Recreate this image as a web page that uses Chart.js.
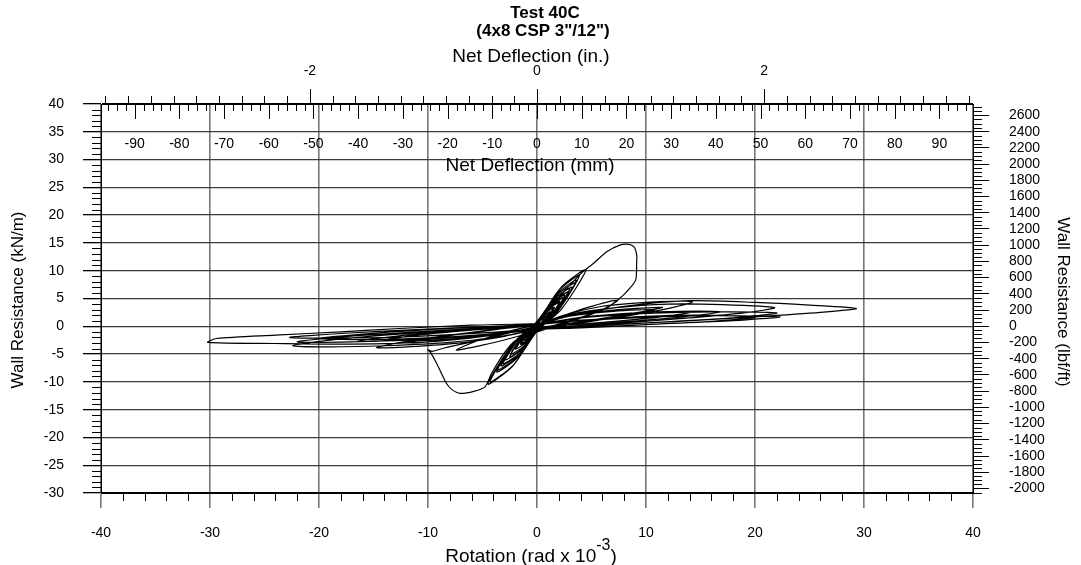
<!DOCTYPE html>
<html>
<head>
<meta charset="utf-8">
<title>Test 40C</title>
<script src="https://cdn.jsdelivr.net/npm/chart.js@4/dist/chart.umd.min.js"></script>
<style>
  html, body { margin: 0; padding: 0; background: #fff; }
  #wrap { width: 1081px; height: 565px; }
</style>
</head>
<body>
<div id="wrap"><canvas id="hysteresis" width="1081" height="565"></canvas></div>
<script>
// ── Hysteresis record, Test 40C (4x8 CSP 3"/12") ─────────────
// rotation in rad x 10^-3, resistance in kN/m, one point per reading
const rotation = [
    // small cycles along the initial stiffness
    0.0, 0.3, 0.6, 0.3, 0.0, -0.3, -0.6, -0.3, 0.0,
    0.5, 1.0, 0.5, 0.0, -0.5, -1.0, -0.5, 0.0,
    0.4, 0.8, 0.4, 0.0, -0.4, -0.8, -0.4, 0.0,
    0.75, 1.5, 0.75, 0.0, -0.75, -1.5, -0.75, 0.0,
    0.6, 1.2, 0.6, 0.0, -0.6, -1.2, -0.6, 0.0,
    1.05, 2.1, 1.05, 0.0, -0.95, -1.9, -0.95, 0.0,
    0.8, 1.6, 0.8, 0.0, -0.75, -1.5, -0.75, 0.0,
    1.3, 2.55, 1.3, 0.0, -1.25, -2.5, -1.25, 0.0,
    1.0, 2.0, 1.0, 0.0, -1.0, -2.0, -1.0, 0.0,
    1.5, 3.0, 1.5, 0.0, -1.55, -3.1, -1.55, 0.0,
    1.2, 2.4, 1.2, 0.0, -1.2, -2.4, -1.2, 0.0,
    1.8, 3.6, 1.8, 0.0, -1.85, -3.7, -1.85, 0.0,
    1.45, 2.9, 1.45, 0.0, -1.45, -2.9, -1.45, 0.0,
    1.95, 3.9, 1.95, 0.0, -2.15, -4.3, -2.15, 0.0,
    1.6, 3.2, 1.6, 0.0, -1.65, -3.3, -1.65, 0.0,
    2.25, 4.5, 2.25, 0.0, -2.25, -4.5, -2.25, 0.0,
    1.75, 3.5, 1.75, 0.0, -1.8, -3.6, -1.8, 0.0,
    // peak cycle
    2.5, 4.2, 5.17, 6.4, 7.6, 8.4, 8.9, 9.15, 9.14, 9.05, 8.22, 7.37,
    6.4, 4.5, 2.5, 0.0, -2.0, -3.0, -4.2, -4.77, -5.8, -7.06, -7.8, -8.3, -9.2, -9.8, -10.0, -9.6,
    -8.5, -6.0, -3.0, 0.0,
    2.0, 4.5, 7.4, 6.0, 4.0, 2.0, 0.0, -2.5, -5.0, -7.4, -6.0, -4.0, -2.0, 0.0,
    // large cycles after the peak
    2.5, 6.0, 10.0, 12.5, 14.3, 12.5, 9.0, 5.0, 2.0, 0.0, -3.0, -7.0, -11.0, -14.7, -12.5, -9.0, -5.0, -2.0, 0.0,
    3.0, 7.0, 11.5, 9.0, 5.0, 0.0, -4.0, -8.0, -12.0, -9.0, -5.0, 0.0,
    3.0, 7.0, 10.8, 8.0, 4.0, 0.0, -4.0, -8.0, -11.5, -8.0, -4.0, 0.0,
    3.0, 7.0, 12.0, 17.0, 21.8, 19.0, 14.0, 8.0, 3.0, 0.0, -3.0, -8.0, -14.0, -19.0, -22.4, -19.5, -14.0, -8.0, -3.0, 0.0,
    4.0, 9.0, 13.0, 16.8, 13.5, 8.0, 3.0, 0.0, -4.0, -9.0, -13.0, -16.5, -13.0, -8.0, -3.0, 0.0,
    4.0, 8.0, 14.0, 11.0, 6.0, 2.0, 0.0, -4.0, -8.0, -14.0, -11.0, -6.0, -2.0, 0.0,
    4.0, 10.0, 16.0, 22.0, 18.0, 11.0, 4.0, 0.0, -5.0, -11.0, -17.0, -22.0, -18.0, -11.0, -4.0, 0.0,
    4.0, 10.0, 16.0, 22.3, 18.0, 11.0, 4.0, 0.0, -5.0, -11.0, -17.0, -22.7, -18.0, -11.0, -4.0, 0.0,
    3.0, 8.0, 14.0, 20.0, 25.0, 29.3, 26.0, 20.0, 13.0, 6.0, 0.0, -4.0, -10.0, -17.0, -24.0, -30.2, -29.4, -24.0, -18.0, -12.6, -6.0, 0.0,
    4.0, 10.0, 15.0, 20.0, 16.0, 10.0, 4.0, 0.0, -5.0, -10.0, -15.0, -20.0, -16.0, -10.0, -4.0, 0.0,
];
const resistance = [
    0.0, 0.97, 1.4, 0.43, -0.12, -0.97, -1.4, -0.43, 0.12,
    1.6, 2.3, 0.7, -0.2, -1.6, -2.3, -0.7, 0.2,
    1.26, 1.8, 0.54, -0.16, -1.26, -1.8, -0.54, 0.16,
    2.38, 3.4, 1.02, -0.3, -2.33, -3.3, -0.97, 0.3,
    1.84, 2.6, 0.76, -0.24, -1.79, -2.5, -0.71, 0.24,
    3.2, 4.5, 1.3, -0.42, -2.86, -4.0, -1.14, 0.4,
    2.42, 3.4, 0.98, -0.32, -2.23, -3.1, -0.87, 0.3,
    3.95, 5.6, 1.65, -0.5, -3.87, -5.5, -1.63, 0.5,
    3.0, 4.2, 1.2, -0.4, -2.95, -4.1, -1.15, 0.4,
    4.75, 6.8, 2.05, -0.6, -4.75, -6.7, -1.95, 0.6,
    3.63, 5.1, 1.47, -0.48, -3.58, -5.0, -1.42, 0.48,
    5.77, 8.3, 2.53, -0.72, -5.77, -8.2, -2.43, 0.72,
    4.4, 6.2, 1.8, -0.58, -4.3, -6.0, -1.7, 0.58,
    6.35, 9.2, 2.85, -0.8, -6.93, -10.0, -3.07, 0.8,
    4.94, 7.0, 2.06, -0.65, -5.04, -7.1, -2.06, 0.65,
    7.1, 10.2, 3.1, -0.9, -7.2, -10.4, -3.2, 0.9,
    5.48, 7.8, 2.32, -0.7, -5.52, -7.8, -2.28, 0.7,
    6.3, 9.8, 11.3, 13.4, 14.6, 14.75, 14.3, 12.8, 11.3, 8.3, 6.2, 4.7,
    3.3, 1.8, 0.5, -1.0, -2.6, -4.8, -8.6, -10.9, -11.7, -12.06, -11.4, -10.3, -6.7, -4.6, -4.25, -4.5,
    -3.9, -2.8, -1.4, 0.1,
    1.6, 3.3, 4.7, 3.0, 1.6, 0.4, -0.8, -2.2, -3.4, -4.3, -3.0, -1.7, -0.6, 0.3,
    2.0, 3.6, 4.3, 4.5, 4.4, 3.4, 2.1, 0.9, 0.0, -0.6, -1.8, -3.0, -3.6, -3.85, -2.9, -1.9, -0.9, -0.1, 0.4,
    1.9, 2.9, 3.4, 2.4, 1.1, -0.3, -1.6, -2.5, -3.0, -2.0, -0.8, 0.3,
    1.8, 2.7, 3.0, 2.0, 0.8, -0.3, -1.5, -2.3, -2.6, -1.6, -0.6, 0.3,
    2.1, 3.3, 4.0, 3.9, 3.35, 2.4, 1.5, 0.6, -0.1, -0.6, -1.7, -2.9, -3.5, -3.7, -3.5, -2.6, -1.6, -0.8, 0.0, 0.4,
    1.6, 2.4, 2.7, 2.6, 1.7, 0.8, 0.0, -0.4, -1.4, -2.2, -2.6, -2.7, -1.8, -0.9, -0.1, 0.3,
    1.5, 2.1, 2.5, 1.6, 0.7, 0.1, -0.3, -1.3, -2.0, -2.5, -1.6, -0.7, -0.1, 0.3,
    1.5, 2.3, 2.6, 2.4, 1.5, 0.7, 0.0, -0.5, -1.6, -2.4, -2.8, -2.8, -1.9, -1.0, -0.2, 0.3,
    1.0, 1.6, 1.9, 1.7, 1.0, 0.4, -0.2, -0.5, -1.2, -1.8, -2.1, -2.0, -1.3, -0.6, 0.0, 0.3,
    1.9, 3.6, 4.6, 4.3, 3.8, 3.2, 2.5, 1.7, 0.9, 0.2, -0.5, -1.6, -2.8, -3.2, -3.1, -2.9, -2.2, -1.6, -1.0, -0.4, 0.2, 0.5,
    1.1, 1.8, 2.0, 1.6, 0.9, 0.3, -0.3, -0.6, -1.5, -2.1, -2.4, -2.2, -1.4, -0.6, 0.0, 0.3,
];

// ── Axis ticks ────────────────────────────────────────────────
const rotationTicks   = [-40, -30, -20, -10, 0, 10, 20, 30, 40];
const resistanceTicks = [-30, -25, -20, -15, -10, -5, 0, 5, 10, 15, 20, 25, 30, 35, 40];
const lbfTicks        = [2600, 2400, 2200, 2000, 1800, 1600, 1400, 1200, 1000, 800, 600, 400, 200, 0,
                         -200, -400, -600, -800, -1000, -1200, -1400, -1600, -1800, -2000];
const mmTicks         = [-90, -80, -70, -60, -50, -40, -30, -20, -10, 0, 10, 20, 30, 40, 50, 60, 70, 80, 90];
const inchTicks       = [-2, 0, 2];

// 8 ft wall: 1e-3 rad of rotation = 2.438 mm of top deflection
const MM_PER_UNIT = 2.438;
const MM_PER_IN   = 25.4;
const LBF_PER_KN  = 68.5218;   // kN/m -> lbf/ft

const FONT = '"Liberation Sans", Arial, Helvetica, sans-serif';
const TICK_FONT = { family: FONT, size: 14 };
const GRID_V = '#767676';
const GRID_H = '#3a3a3a';

const points = rotation.map((r, i) => ({ x: r, y: resistance[i] }));
const setTicks = list => scale => { scale.ticks = list.map(v => ({ value: v })); };

// ── Minor ticks, top deflection axes and all titles ───────────
function vTick(ctx, px, y0, y1) {
    const xx = Math.round(px) + 0.5;
    ctx.beginPath(); ctx.moveTo(xx, y0); ctx.lineTo(xx, y1); ctx.stroke();
}
function hTick(ctx, py, x0, x1) {
    const yy = Math.round(py) + 0.5;
    ctx.beginPath(); ctx.moveTo(x0, yy); ctx.lineTo(x1, yy); ctx.stroke();
}
function text(ctx, str, x, y, size, bold, align) {
    ctx.font = (bold ? 'bold ' : '') + size + 'px ' + FONT;
    ctx.textAlign = align || 'center';
    ctx.textBaseline = 'middle';
    ctx.fillText(str, x, y);
}

const axisDecor = {
    id: 'axisDecor',
    afterDraw(chart) {
        const { ctx, chartArea: a } = chart;
        const { x, y, yR, mm, inch } = chart.scales;
        ctx.save();
        ctx.strokeStyle = '#000';
        ctx.fillStyle = '#000';
        ctx.lineWidth = 1;

        // left: minor every 1 kN/m
        for (let v = -30; v <= 40; v++) {
            if (v % 5 !== 0) hTick(ctx, y.getPixelForValue(v), a.left - 9, a.left);
        }
        // right: minor every 50 lbf/ft
        for (let v = -2050; v <= 2700; v += 50) {
            if (v % 200 !== 0) hTick(ctx, yR.getPixelForValue(v), a.right, a.right + 9);
        }
        // bottom: minor every 2 x 10^-3 rad
        for (let v = -38; v <= 38; v += 2) {
            if (v % 10 !== 0) vTick(ctx, x.getPixelForValue(v), a.bottom, a.bottom + 8);
        }
        // top, inches: ticks upward every 0.2 in, long every 2 in
        for (let i = -19; i <= 19; i++) {
            const len = i % 10 === 0 ? 15 : 8;
            vTick(ctx, inch.getPixelForValue(i * 0.2), a.top - len, a.top);
        }
        // top, millimetres: ticks downward every 2 mm, long every 10 mm
        for (let v = -96; v <= 96; v += 2) {
            const len = v % 10 === 0 ? 15 : 7;
            vTick(ctx, mm.getPixelForValue(v), a.top, a.top + len);
        }
        // top axis line
        hTick(ctx, a.top, a.left, a.right);

        inchTicks.forEach(v => text(ctx, String(v), inch.getPixelForValue(v), 71, 14));
        mmTicks.forEach(v => text(ctx, String(v), mm.getPixelForValue(v), 144, 14));

        text(ctx, 'Test 40C', 545, 13, 17, true);
        text(ctx, '(4x8 CSP 3"/12")', 543, 31, 17, true);
        text(ctx, 'Net Deflection (in.)', 531, 57, 19);
        text(ctx, 'Net Deflection (mm)', 530, 166, 19);

        // bottom title with superscript exponent
        ctx.font = '19px ' + FONT;
        const base = 'Rotation (rad x 10';
        const wBase = ctx.measureText(base).width;
        const wClose = ctx.measureText(')').width;
        ctx.font = '16px ' + FONT;
        const wExp = ctx.measureText('-3').width;
        let cx = 531 - (wBase + wExp + wClose) / 2;
        ctx.textAlign = 'left';
        ctx.textBaseline = 'alphabetic';
        ctx.font = '19px ' + FONT;
        ctx.fillText(base, cx, 562);
        cx += wBase;
        ctx.font = '16px ' + FONT;
        ctx.fillText('-3', cx, 550);
        cx += wExp;
        ctx.font = '19px ' + FONT;
        ctx.fillText(')', cx, 562);

        // side titles
        ctx.save();
        ctx.translate(18, 300);
        ctx.rotate(-Math.PI / 2);
        text(ctx, 'Wall Resistance (kN/m)', 0, 0, 17);
        ctx.restore();
        ctx.save();
        ctx.translate(1063, 302);
        ctx.rotate(Math.PI / 2);
        text(ctx, 'Wall Resistance (lbf/ft)', 0, 0, 17);
        ctx.restore();

        ctx.restore();
    },
};

new Chart(document.getElementById('hysteresis'), {
    type: 'scatter',
    data: {
        datasets: [{
            data: points,
            showLine: true,
            borderColor: '#000',
            borderWidth: 1.2,
            pointRadius: 0,
            tension: 0.25,
            xAxisID: 'x',
            yAxisID: 'y',
        }],
    },
    options: {
        responsive: false,
        animation: false,
        devicePixelRatio: 1,
        layout: { padding: { top: 104, left: 0, right: 0, bottom: 0 } },
        plugins: { legend: { display: false }, tooltip: { enabled: false } },
        scales: {
            x: {
                type: 'linear', position: 'bottom', min: -40, max: 40,
                afterBuildTicks: setTicks(rotationTicks),
                afterFit: s => { s.height = 72; },
                grid: { color: GRID_V, lineWidth: 1.6, tickLength: 15, tickColor: GRID_V },
                border: { color: '#000', width: 1 },
                ticks: { color: '#000', font: TICK_FONT, padding: 17, maxRotation: 0, autoSkip: false,
                         callback: v => String(v) },
            },
            y: {
                type: 'linear', position: 'left', min: -30, max: 40,
                afterBuildTicks: setTicks(resistanceTicks),
                afterFit: s => { s.width = 101; },
                grid: {
                    color: c => (c.tick && (c.tick.value === 40 || c.tick.value === -30)) ? '#000' : GRID_H,
                    lineWidth: 1.3, tickLength: 18, tickColor: '#000',
                },
                border: { color: '#000', width: 1 },
                ticks: { color: '#000', font: TICK_FONT, padding: 19, autoSkip: false,
                         callback: v => String(v) },
            },
            yR: {
                type: 'linear', position: 'right', min: -30 * LBF_PER_KN, max: 40 * LBF_PER_KN,
                afterBuildTicks: setTicks(lbfTicks),
                afterFit: s => { s.width = 108; },
                grid: { drawOnChartArea: false, tickLength: 16, tickColor: '#000', lineWidth: 1 },
                border: { color: '#000', width: 1 },
                ticks: { color: '#000', font: TICK_FONT, padding: 20, autoSkip: false,
                         callback: v => String(v) },
            },
            mm: {
                type: 'linear', position: 'top', display: false,
                min: -40 * MM_PER_UNIT, max: 40 * MM_PER_UNIT,
            },
            inch: {
                type: 'linear', position: 'top', display: false,
                min: -40 * MM_PER_UNIT / MM_PER_IN, max: 40 * MM_PER_UNIT / MM_PER_IN,
            },
        },
    },
    plugins: [axisDecor],
});
</script>
</body>
</html>
